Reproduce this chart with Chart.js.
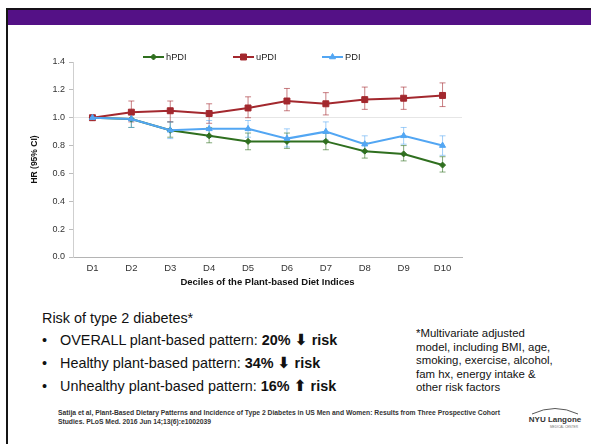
<!DOCTYPE html>
<html>
<head>
<meta charset="utf-8">
<script src="https://cdn.jsdelivr.net/npm/chart.js@4.4.0/dist/chart.umd.min.js"></script>
<style>
  html, body { margin: 0; padding: 0; background: #fff; }
  body { width: 591px; height: 444px; position: relative; overflow: hidden;
         font-family: 'Liberation Sans', Arial, sans-serif; color: #111; }
  .abs { position: absolute; white-space: nowrap; }
  #topline { left: 6px; top: 8px; width: 585px; height: 2px; background: #151018; }
  #band { left: 8px; top: 10px; width: 583px; height: 15px; background: #541186; }
  #leftline { left: 6px; top: 8px; width: 2px; height: 436px; background: #151515; }
  #chartBox { left: 0; top: 40px; width: 480px; height: 255px; }
  .body { font-size: 14.4px; line-height: 14.4px; }
  .dot { left: 42px; }
  .txt { left: 60px; }
  .arr { font-family: 'DejaVu Sans', sans-serif; font-weight: bold; font-size: 15.5px; line-height: 10px; }
  #note { left: 416px; top: 327px; font-size: 11.4px; line-height: 13.5px; color: #111; }
  #cite { left: 58px; top: 409px; font-size: 6.75px; line-height: 8.5px; font-weight: bold; color: #333; }
  #logo { left: 528px; top: 404px; width: 54px; height: 28px; }
</style>
</head>
<body>
<div class="abs" id="topline"></div>
<div class="abs" id="band"></div>
<div class="abs" id="leftline"></div>

<div class="abs" id="chartBox"><canvas id="hr" width="480" height="255"></canvas></div>

<div class="abs body" style="left:42px;top:311px;">Risk of type 2 diabetes*</div>
<div class="abs body dot" style="top:333px;">•</div>
<div class="abs body txt" style="top:333px;">OVERALL plant-based pattern: <b>20% <span class="arr">⬇</span> risk</b></div>
<div class="abs body dot" style="top:356px;">•</div>
<div class="abs body txt" style="top:356px;">Healthy plant-based pattern: <b>34% <span class="arr">⬇</span> risk</b></div>
<div class="abs body dot" style="top:379px;">•</div>
<div class="abs body txt" style="top:379px;">Unhealthy plant-based pattern: <b>16% <span class="arr">⬆</span> risk</b></div>

<div class="abs" id="note">*Multivariate adjusted<br>model, including BMI, age,<br>smoking, exercise, alcohol,<br>fam hx, energy intake &amp;<br>other risk factors</div>

<div class="abs" id="cite">Satija et al, Plant-Based Dietary Patterns and Incidence of Type 2 Diabetes in US Men and Women: Results from Three Prospective Cohort<br>Studies. PLoS Med. 2016 Jun 14;13(6):e1002039</div>

<svg class="abs" id="logo" viewBox="0 0 54 28">
  <path d="M4 10 Q27 -1 50 10" fill="none" stroke="#444" stroke-width="0.9"/>
  <text x="27" y="18" text-anchor="middle" font-family="Liberation Sans, Arial" font-weight="bold" font-size="8" fill="#333">NYU Langone</text>
  <text x="36" y="24" text-anchor="middle" font-family="Liberation Sans, Arial" font-size="3.2" fill="#777">MEDICAL CENTER</text>
</svg>

<script>
// Deciles of the plant-based diet indices
const deciles = ['D1', 'D2', 'D3', 'D4', 'D5', 'D6', 'D7', 'D8', 'D9', 'D10'];

// Hazard ratios and 95% confidence limits per index
const hPDI     = [1.00, 0.99, 0.91, 0.87, 0.83, 0.83, 0.83, 0.76, 0.74, 0.66];
const hPDILow  = [1.00, 0.93, 0.86, 0.82, 0.77, 0.78, 0.77, 0.71, 0.69, 0.61];
const hPDIHigh = [1.00, 1.04, 0.97, 0.93, 0.89, 0.89, 0.89, 0.82, 0.80, 0.72];

const uPDI     = [1.00, 1.04, 1.05, 1.03, 1.07, 1.12, 1.10, 1.13, 1.14, 1.16];
const uPDILow  = [1.00, 0.97, 0.97, 0.96, 1.00, 1.05, 1.02, 1.06, 1.06, 1.08];
const uPDIHigh = [1.00, 1.12, 1.12, 1.10, 1.15, 1.21, 1.18, 1.22, 1.22, 1.25];

const PDI      = [1.00, 0.99, 0.91, 0.92, 0.92, 0.85, 0.90, 0.81, 0.87, 0.80];
const PDILow   = [1.00, 0.93, 0.85, 0.86, 0.86, 0.79, 0.84, 0.75, 0.81, 0.73];
const PDIHigh  = [1.00, 1.04, 0.97, 0.98, 0.98, 0.92, 0.97, 0.87, 0.93, 0.87];

// Value axis range
const yMin = 0, yMax = 1.4, yStep = 0.2;

const FONT = "'Liberation Sans', Arial, sans-serif";
Chart.defaults.font.family = FONT;

// Vertical confidence-interval whiskers with caps
const errorBars = {
  id: 'errorBars',
  beforeDatasetsDraw(chart) {
    const { ctx, scales: { x, y } } = chart;
    chart.data.datasets.forEach(ds => {
      if (!ds.ciLow) return;
      ctx.save();
      ctx.strokeStyle = ds.ciColor;
      ctx.lineWidth = 1;
      ds.data.forEach((v, i) => {
        const lo = ds.ciLow[i], hi = ds.ciHigh[i];
        if (hi - lo < 1e-9) return;
        const px = x.getPixelForValue(i);
        const yl = y.getPixelForValue(lo), yh = y.getPixelForValue(hi);
        ctx.beginPath();
        ctx.moveTo(px, yl); ctx.lineTo(px, yh);
        ctx.moveTo(px - 3, yl); ctx.lineTo(px + 3, yl);
        ctx.moveTo(px - 3, yh); ctx.lineTo(px + 3, yh);
        ctx.stroke();
      });
      ctx.restore();
    });
  }
};

// Legend entries drawn as a short line segment with the series marker
const lineLegend = {
  id: 'lineLegend',
  afterDraw(chart) {
    const { ctx } = chart;
    const yc = 17;
    const starts = [143, 233, 322];
    chart.data.datasets.forEach((ds, i) => {
      const x0 = starts[i];
      ctx.save();
      ctx.strokeStyle = ds.borderColor;
      ctx.fillStyle = ds.backgroundColor;
      ctx.lineWidth = 2;
      ctx.beginPath(); ctx.moveTo(x0, yc); ctx.lineTo(x0 + 21, yc); ctx.stroke();
      ctx.lineWidth = 1;
      if (Chart.helpers && Chart.helpers.drawPoint) {
        Chart.helpers.drawPoint(ctx, { pointStyle: ds.pointStyle, radius: ds.pointRadius, borderWidth: 1, rotation: 0 }, x0 + 10.5, yc);
      }
      ctx.fillStyle = '#222';
      ctx.font = '9.3px ' + FONT;
      ctx.textBaseline = 'middle';
      ctx.textAlign = 'left';
      ctx.fillText(ds.label, x0 + 23, yc);
      ctx.restore();
    });
  }
};

new Chart(document.getElementById('hr'), {
  type: 'line',
  data: {
    labels: deciles,
    datasets: [
      { label: 'hPDI', data: hPDI, ciLow: hPDILow, ciHigh: hPDIHigh, order: 2,
        borderColor: '#2f6f1f', backgroundColor: '#2f6f1f', ciColor: 'rgba(47,111,31,0.6)',
        borderWidth: 2, pointStyle: 'rectRot', pointRadius: 3, pointBorderWidth: 1, tension: 0 },
      { label: 'uPDI', data: uPDI, ciLow: uPDILow, ciHigh: uPDIHigh, order: 1,
        borderColor: '#a3282e', backgroundColor: '#a3282e', ciColor: 'rgba(163,40,46,0.6)',
        borderWidth: 2, pointStyle: 'rect', pointRadius: 4.2, pointBorderWidth: 1, tension: 0 },
      { label: 'PDI', data: PDI, ciLow: PDILow, ciHigh: PDIHigh, order: 0,
        borderColor: '#52a6f3', backgroundColor: '#52a6f3', ciColor: 'rgba(82,166,243,0.55)',
        borderWidth: 2, pointStyle: 'triangle', pointRadius: 3.5, pointBorderWidth: 1, tension: 0 }
    ]
  },
  options: {
    responsive: false,
    animation: false,
    layout: { padding: { left: 25, right: 18, top: 22, bottom: 3 } },
    plugins: { legend: { display: false }, tooltip: { enabled: false } },
    scales: {
      x: {
        offset: true,
        afterFit(scale) { scale.height = 35; },
        grid: { display: true, drawOnChartArea: false, drawTicks: false },
        border: { display: true, color: '#b4b4b4', width: 1 },
        ticks: { color: '#333', font: { size: 9.5 }, padding: 6 },
        title: { display: true, text: 'Deciles of the Plant-based Diet Indices',
                 color: '#111', font: { size: 9.5, weight: 'bold' }, padding: { top: 0, bottom: 4 } }
      },
      y: {
        min: yMin, max: yMax,
        afterFit(scale) { scale.width = 48; },
        grid: {
          color: c => (c.tick && Math.abs(c.tick.value - 1) < 1e-6) ? '#e6e6e6' : 'rgba(0,0,0,0)',
          tickColor: '#bdbdbd', tickLength: 4, drawTicks: true
        },
        border: { display: true, color: '#cfcfcf', width: 1 },
        ticks: { stepSize: yStep, color: '#333', font: { size: 9 }, padding: 4,
                 callback: v => Number(v).toFixed(1) },
        title: { display: true, text: 'HR (95% CI)', color: '#111',
                 font: { size: 8.5, weight: 'bold' }, padding: { top: 5, bottom: 0 } }
      }
    }
  },
  plugins: [errorBars, lineLegend]
});
</script>
</body>
</html>
